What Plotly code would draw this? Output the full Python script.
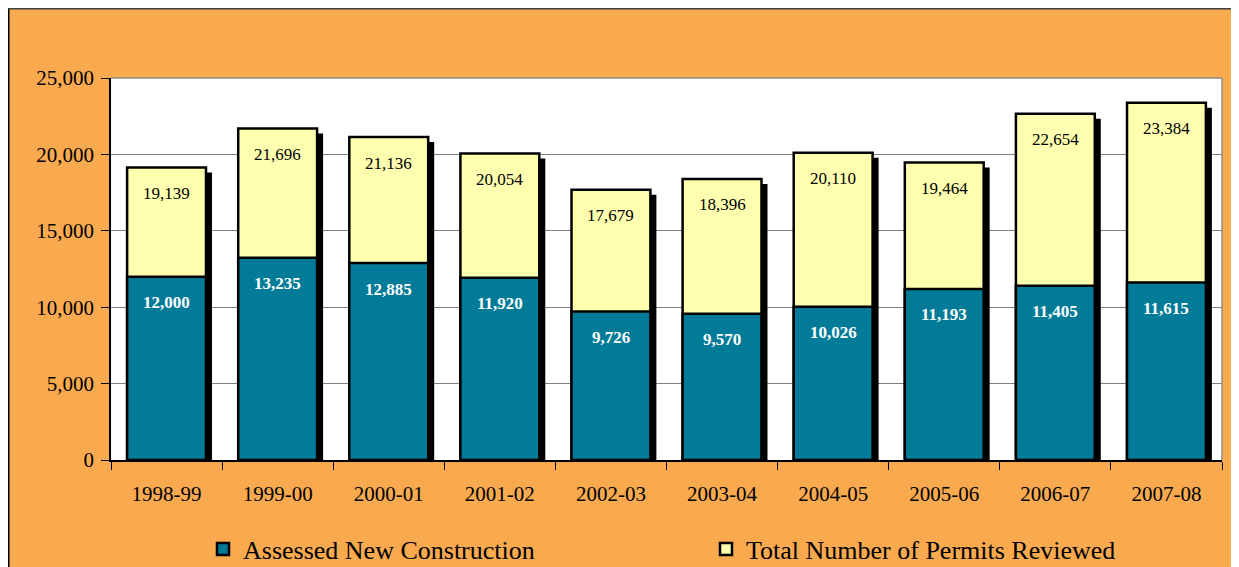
import plotly.graph_objects as go

categories = ["1998-99", "1999-00", "2000-01", "2001-02", "2002-03",
              "2003-04", "2004-05", "2005-06", "2006-07", "2007-08"]
assessed = [12000, 13235, 12885, 11920, 9726, 9570, 10026, 11193, 11405, 11615]
total = [19139, 21696, 21136, 20054, 17679, 18396, 20110, 19464, 22654, 23384]

TEAL = "#017B97"
YELLOW = "#FFFFB0"
ORANGE = "#F9AA4F"
FONT = "Liberation Serif"

# the page body adds an 8px margin, so the figure is placed 8px in
OFF = 8
W, H = 1239, 567 - OFF
L, R, T, B = 111 - OFF, 1222 - OFF, 78 - OFF, 460 - OFF
PW, PH = R - L, B - T

def px_x(p):
    return (p - L) / PW

def px_y(p):
    return (B - p) / PH

bw = 0.71
shadow_dx = 6 / (PW / len(categories))
shadow_dy = 5 * 25000 / PH

fig = go.Figure()
fig.add_trace(go.Bar(
    x=categories, y=[v - shadow_dy for v in total], width=bw,
    offset=-bw / 2 + shadow_dx, marker=dict(color="black", line=dict(width=0)),
    showlegend=False, hoverinfo="skip"))
fig.add_trace(go.Bar(
    x=categories, y=total, width=bw, offset=-bw / 2,
    name="Total Number of Permits Reviewed",
    marker=dict(color=YELLOW, line=dict(color="black", width=2.5))))
fig.add_trace(go.Bar(
    x=categories, y=assessed, width=bw, offset=-bw / 2,
    name="Assessed New Construction",
    marker=dict(color=TEAL, line=dict(color="black", width=2.5))))

for c, v in zip(categories, total):
    fig.add_annotation(x=c, y=v, yshift=-26, text=f"{v:,}", showarrow=False,
                       font=dict(family=FONT, size=17, color="black"))
for c, v in zip(categories, assessed):
    fig.add_annotation(x=c, y=v, yshift=-26, text=f"<b>{v:,}</b>", showarrow=False,
                       font=dict(family=FONT, size=17, color="white"))

shapes = [
    # frame lines of the orange panel
    dict(type="line", xref="paper", yref="paper", x0=px_x(0.75), x1=px_x(0.75),
         y0=px_y(0), y1=px_y(H + 5), line=dict(color="black", width=1.5)),
    dict(type="line", xref="paper", yref="paper", x0=px_x(0), x1=px_x(W + 5),
         y0=px_y(0.75), y1=px_y(0.75), line=dict(color="#404040", width=1.5)),
    # plot area border top/right
    dict(type="line", xref="paper", yref="paper", x0=0, x1=1, y0=1, y1=1,
         line=dict(color="#8C8C8C", width=1.5)),
    dict(type="line", xref="paper", yref="paper", x0=1, x1=1, y0=0, y1=1,
         line=dict(color="#8C8C8C", width=1.5)),
]

fig.update_layout(
    width=W, height=H,
    margin=dict(l=L, r=W - R, t=T, b=H - B, pad=0, autoexpand=False),
    paper_bgcolor=ORANGE, plot_bgcolor="white",
    barmode="overlay",
    font=dict(family=FONT, color="black"),
    shapes=shapes,
    legend=dict(orientation="h", x=px_x(203 - OFF), y=px_y(549 - OFF),
                yanchor="middle", xanchor="left", traceorder="reversed",
                font=dict(family=FONT, size=26, color="black"),
                bgcolor="rgba(0,0,0,0)", entrywidth=458, entrywidthmode="pixels",
                itemwidth=30),
    xaxis=dict(type="category", tickson="boundaries", ticks="outside",
               ticklen=8, tickcolor="black", showline=True, linecolor="black",
               linewidth=1.5, showgrid=False, ticklabelstandoff=14,
               tickfont=dict(family=FONT, size=21, color="black"),
               range=[-0.5, 9.5]),
    yaxis=dict(range=[0, 25000], tickvals=[0, 5000, 10000, 15000, 20000, 25000],
               ticktext=["0", "5,000", "10,000", "15,000", "20,000", "25,000"],
               ticks="outside", ticklen=8, tickcolor="black", showline=True,
               linecolor="black", linewidth=1.5, showgrid=True,
               gridcolor="#7F7F7F", gridwidth=1, zeroline=False,
               ticklabelstandoff=3,
               tickfont=dict(family=FONT, size=21, color="black")),
)

fig.write_html("out.html")
